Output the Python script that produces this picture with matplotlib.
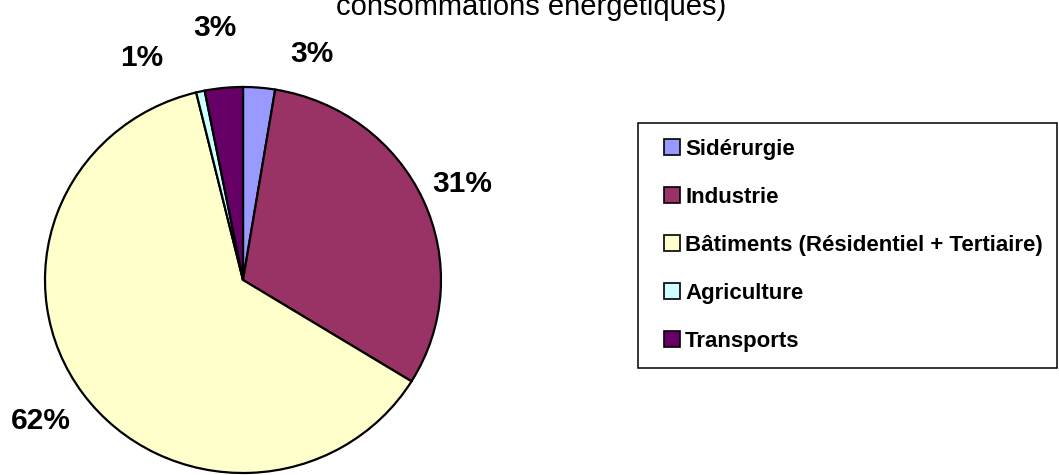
import matplotlib.pyplot as plt
from matplotlib.patches import Rectangle

plt.rcParams['font.family'] = ['Liberation Sans', 'DejaVu Sans']

# data
secteurs = ['Sidérurgie', 'Industrie', 'Bâtiments (Résidentiel + Tertiaire)',
            'Agriculture', 'Transports']
parts = [2.6, 31.2, 62.4, 0.7, 3.1]
etiquettes = ['3%', '31%', '62%', '1%', '3%']
couleurs = ['#9999FF', '#993366', '#FFFFCC', '#CCFFFF', '#660066']
titre = 'consommations énergétiques)'

W, H = 1059, 475
fig = plt.figure(figsize=(W / 100, H / 100), dpi=100)

# pie axes (slightly wider than tall, like the original)
ax = fig.add_axes([45 / W, 2 / H, 396 / W, 386 / H])
wedges, _ = ax.pie(parts, colors=couleurs, startangle=90, counterclock=False,
                   wedgeprops=dict(edgecolor='black', linewidth=1.6))
ax.set_aspect('auto')
ax.set_xlim(-1, 1)
ax.set_ylim(-1, 1)
ax.axis('off')

# percentage labels, positions in pixels
pos_labels = [(312, 54), (462, 184), (41, 421), (142, 58), (215, 28)]
for txt, (px, py) in zip(etiquettes, pos_labels):
    fig.text(px / W, 1 - py / H, txt, ha='center', va='center',
             fontsize=21.5, fontweight='bold')

# title (first line is cut off by the image border)
fig.text(531 / W, 1 - 15 / H, titre, ha='center', va='baseline', fontsize=21)

# legend frame
fig.patches.append(Rectangle((638 / W, 1 - 368 / H), 419 / W, 245 / H,
                             transform=fig.transFigure, fill=False,
                             edgecolor='black', linewidth=1.1))
leg = fig.legend(wedges, secteurs, loc='upper left',
                 bbox_to_anchor=(664 / W, 1 - 139 / H), frameon=False,
                 prop=dict(size=16, weight='bold'), handlelength=0.7,
                 handleheight=0.7, handletextpad=0.25, labelspacing=1.21,
                 borderpad=0, borderaxespad=0)
for h in leg.legend_handles:
    h.set_linewidth(1.2)

fig.savefig('out.png', dpi=100)
